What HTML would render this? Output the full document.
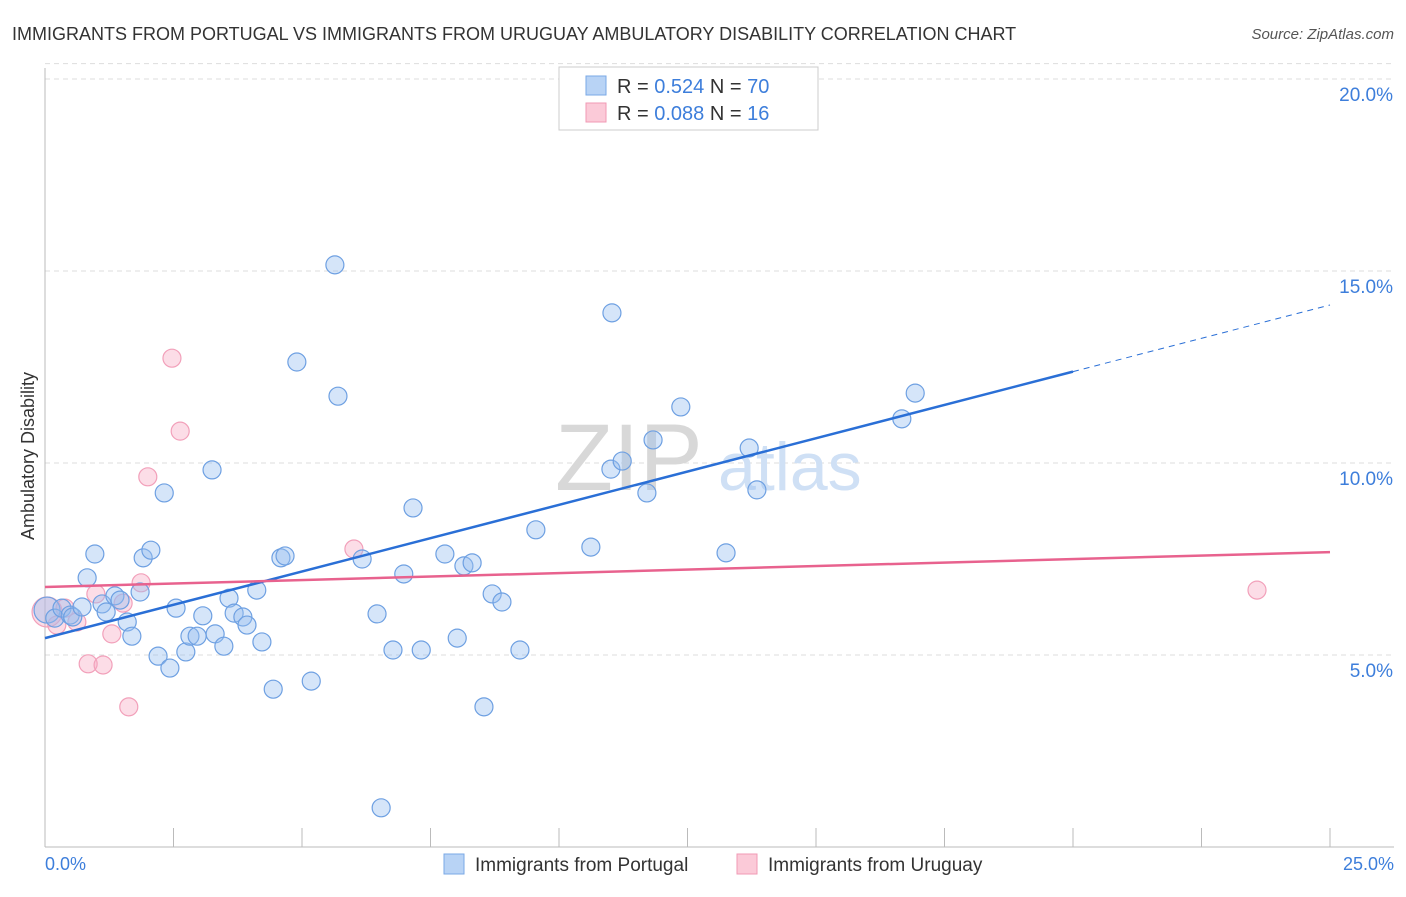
<!DOCTYPE html>
<html><head><meta charset="utf-8"><style>
body{margin:0;background:#fff;font-family:"Liberation Sans",sans-serif;}
svg text{font-family:"Liberation Sans",sans-serif;}
</style></head><body>
<svg id="chart" width="1406" height="892" xmlns="http://www.w3.org/2000/svg">
<text x="12" y="40" font-size="18" fill="#333">IMMIGRANTS FROM PORTUGAL VS IMMIGRANTS FROM URUGUAY AMBULATORY DISABILITY CORRELATION CHART</text>
<text x="1394" y="39" font-size="15" fill="#555" font-style="italic" text-anchor="end">Source: ZipAtlas.com</text>
<g id="grid"></g>
<text x="555" y="490" font-size="95" fill="#d8d8d8" font-family="Liberation Serif">ZIP</text>
<text x="718" y="490" font-size="68" fill="#cfe0f5">atlas</text>
<line x1="45" y1="68" x2="45" y2="847" stroke="#bbb"/>
<line x1="45" y1="847" x2="1394" y2="847" stroke="#bbb"/>
<text transform="translate(34,456) rotate(-90)" font-size="18" fill="#333" text-anchor="middle">Ambulatory Disability</text>
<text x="45" y="870" font-size="18" fill="#3d7edb">0.0%</text>
<text x="1394" y="870" font-size="18" fill="#3d7edb" text-anchor="end">25.0%</text>
<g id="ylabels"></g>
<g id="pts"></g>
<g id="lines"></g>
<g>
<rect x="559" y="67" width="259" height="63" fill="#fff" stroke="#ccc"/>
<rect x="586" y="76" width="20" height="19" fill="#b8d3f5" stroke="#7aa8e6"/>
<rect x="586" y="103" width="20" height="19" fill="#fbcad8" stroke="#f09ab4"/>
<text x="617" y="93" font-size="20" fill="#333">R = <tspan fill="#3d7edb">0.524</tspan>   N = <tspan fill="#3d7edb">70</tspan></text>
<text x="617" y="120" font-size="20" fill="#333">R = <tspan fill="#3d7edb">0.088</tspan>   N =  <tspan fill="#3d7edb">16</tspan></text>
</g>
<g>
<rect x="444" y="854" width="20" height="20" fill="#b8d3f5" stroke="#7aa8e6"/>
<text x="475" y="871" font-size="19" fill="#333">Immigrants from Portugal</text>
<rect x="737" y="854" width="20" height="20" fill="#fbcad8" stroke="#f09ab4"/>
<text x="768" y="871" font-size="19" fill="#333">Immigrants from Uruguay</text>
</g>
</svg>
<script>
const yTicks=[5,10,15,20];
const yTickLabels=["5.0%","10.0%","15.0%","20.0%"];
const xTicks=[0,2.5,5,7.5,10,12.5,15,17.5,20,22.5,25];
const blueX=[0.04,0.19,0.33,0.49,0.54,0.72,0.82,0.97,1.11,1.19,1.36,1.46,1.60,1.69,1.91,2.06,1.85,2.20,2.32,2.43,2.55,2.74,2.82,2.96,3.07,3.25,3.31,3.48,3.58,3.68,3.85,3.93,4.12,4.22,4.44,4.59,4.67,4.90,5.18,5.64,5.70,6.17,6.46,6.54,6.77,6.98,7.16,7.32,7.78,8.02,8.15,8.31,8.54,8.70,8.89,9.24,9.55,10.62,11.01,11.03,11.23,11.71,11.83,12.37,13.25,13.70,13.85,16.67,16.93,14.10];
const blueY=[6.17,5.96,6.22,6.04,5.99,6.25,7.01,7.63,6.33,6.12,6.54,6.43,5.86,5.49,7.53,7.73,6.64,4.97,9.22,4.66,6.22,5.08,5.49,5.49,6.02,9.82,5.55,5.23,6.48,6.09,5.99,5.78,6.69,5.34,4.11,7.53,7.58,12.63,4.32,15.16,11.74,7.50,6.07,1.02,5.13,7.11,8.83,5.13,7.63,5.44,7.32,7.40,3.65,6.59,6.38,5.13,8.26,7.81,9.84,13.91,10.05,9.22,10.60,11.46,7.66,10.39,9.30,11.15,11.82,19.9];
const pinkX=[0.04,0.23,0.39,0.62,0.84,0.99,1.13,1.30,1.52,1.63,1.87,2.00,2.47,2.63,6.01,23.58];
const pinkY=[6.12,5.78,6.22,5.86,4.77,6.59,4.74,5.55,6.35,3.65,6.88,9.64,12.73,10.83,7.76,6.69];
const blueTrend=[5.44,0.347];
const pinkTrend=[6.77,0.0364];
const X=v=>45+v*51.4, Y=v=>847-v*38.4;
const NS="http://www.w3.org/2000/svg";
function mk(t,a,p){const e=document.createElementNS(NS,t);for(const k in a)e.setAttribute(k,a[k]);p.appendChild(e);return e;}
const grid=document.getElementById('grid');
yTicks.forEach((t,i)=>{
 const l=mk('line',{x1:45,x2:1394,y1:Y(t),y2:Y(t),stroke:'#ddd','stroke-dasharray':'5,4'},grid);
 
 
 const tx=mk('text',{x:1393,y:Y(t)+22,'font-size':19,fill:'#3d7edb','text-anchor':'end'},document.getElementById('ylabels'));
 tx.textContent=yTickLabels[i];
 
 
});
mk('line',{x1:45,x2:1394,y1:Y(20.4),y2:Y(20.4),stroke:'#ddd','stroke-dasharray':'5,4'},grid);
xTicks.forEach(t=>{
 const l=mk('line',{x1:X(t),x2:X(t),y1:828,y2:847,stroke:'#bbb'},grid);
 
 
});
const pts=document.getElementById('pts');
pinkX.forEach((x,i)=>{
 const c=mk('circle',{cx:X(x),cy:Y(pinkY[i]),r:i==0?15:9,fill:'rgba(247,170,195,0.4)',stroke:'#f2a0ba','stroke-width':1.2},pts);
 
 
});
blueX.forEach((x,i)=>{
 const c=mk('circle',{cx:X(x),cy:Y(blueY[i]),r:i==0?13:9,fill:'rgba(150,190,240,0.4)',stroke:'#6ea0e2','stroke-width':1.2},pts);
 
 
});
const lines=document.getElementById('lines');
const bl=mk('line',{x1:X(0),y1:Y(blueTrend[0]),x2:X(20),y2:Y(blueTrend[0]+20*blueTrend[1]),stroke:'#2a6fd6','stroke-width':2.5},lines);


const bd=mk('line',{x1:X(20),y1:Y(blueTrend[0]+20*blueTrend[1]),x2:X(25),y2:Y(blueTrend[0]+25*blueTrend[1]),stroke:'#2a6fd6','stroke-width':1,'stroke-dasharray':'6,5'},lines);


const pl=mk('line',{x1:X(0),y1:Y(pinkTrend[0]),x2:X(25),y2:Y(pinkTrend[0]+25*pinkTrend[1]),stroke:'#e8628e','stroke-width':2.5},lines);


</script>
</body></html>
